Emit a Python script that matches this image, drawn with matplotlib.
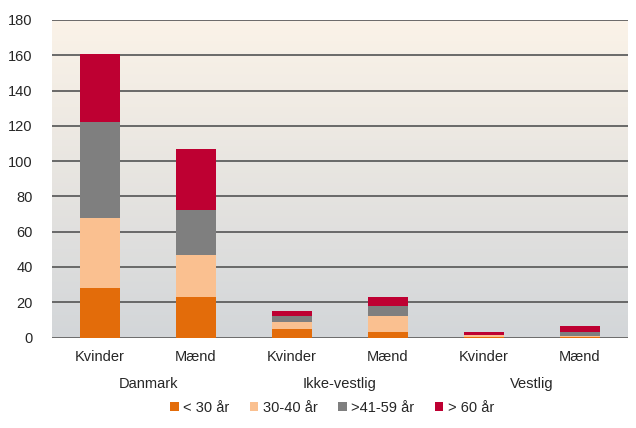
import matplotlib.pyplot as plt
import numpy as np
from matplotlib.patches import Patch

plt.rcParams['font.family'] = ['Liberation Sans', 'DejaVu Sans']

groups = ["Danmark", "Ikke-vestlig", "Vestlig"]
sexes = ["Kvinder", "Mænd"]
labels = ["< 30 år", "30-40 år", ">41-59 år", "> 60 år"]
colors = ["#E36C0A", "#FAC090", "#7F7F7F", "#BE0032"]

# values per bar: Danmark K, Danmark M, Ikke-vestlig K, Ikke-vestlig M, Vestlig K, Vestlig M
under30 = [28, 23, 5, 3, 0.5, 0.3]
age30_40 = [40, 24, 4, 9, 0.7, 0.3]
age41_59 = [54, 25, 3, 6, 0.3, 2.5]
over60 = [39, 35, 3, 5, 1.5, 3.5]
series = [under30, age30_40, age41_59, over60]

fig = plt.figure(figsize=(6.36, 4.28), dpi=100)
ax = fig.add_axes([52/636, 1-337.5/428, 576/636, 317.5/428])

# gradient background
top = np.array([251, 243, 232]) / 255
bot = np.array([211, 214, 217]) / 255
t = np.linspace(0, 1, 256)[:, None]
grad = (top * (1 - t) + bot * t)[:, None, :]
ax.imshow(grad, extent=[0, 1, 0, 1], transform=ax.transAxes, aspect='auto', zorder=0)

x = np.arange(6)
bottom = np.zeros(6)
for vals, c, lab in zip(series, colors, labels):
    ax.bar(x, vals, 0.42, bottom=bottom, color=c, zorder=3, label=lab)
    bottom += np.array(vals)

for yv in range(0, 181, 20):
    ax.axhline(yv, color="#5f5f5f", lw=1.3, zorder=2)

ax.set_xlim(-0.5, 5.5)
ax.set_ylim(0, 180)
ax.set_yticks(range(0, 181, 20))
ax.tick_params(axis='y', length=0, pad=14, labelsize=10.5, colors="#262626")
ax.set_xticks(x)
ax.set_xticklabels(sexes * 3)
ax.tick_params(axis='x', length=0, pad=9, labelsize=10.5, colors="#262626")
for s in ax.spines.values():
    s.set_visible(False)

for i, g in enumerate(groups):
    ax.text(2 * i + 0.5, -0.145, g, transform=ax.get_xaxis_transform(),
            ha='center', va='center', fontsize=10.5, color="#262626")

handles = [Patch(facecolor=c, label=l) for c, l in zip(colors, labels)]
fig.legend(handles=handles, loc='center', bbox_to_anchor=(332/636, 1-408/428), ncol=4,
           frameon=False, fontsize=10.5, handlelength=0.6, handleheight=0.6,
           handletextpad=0.3, columnspacing=1.4, labelcolor="#262626")

fig.savefig("out.png", dpi=100)
